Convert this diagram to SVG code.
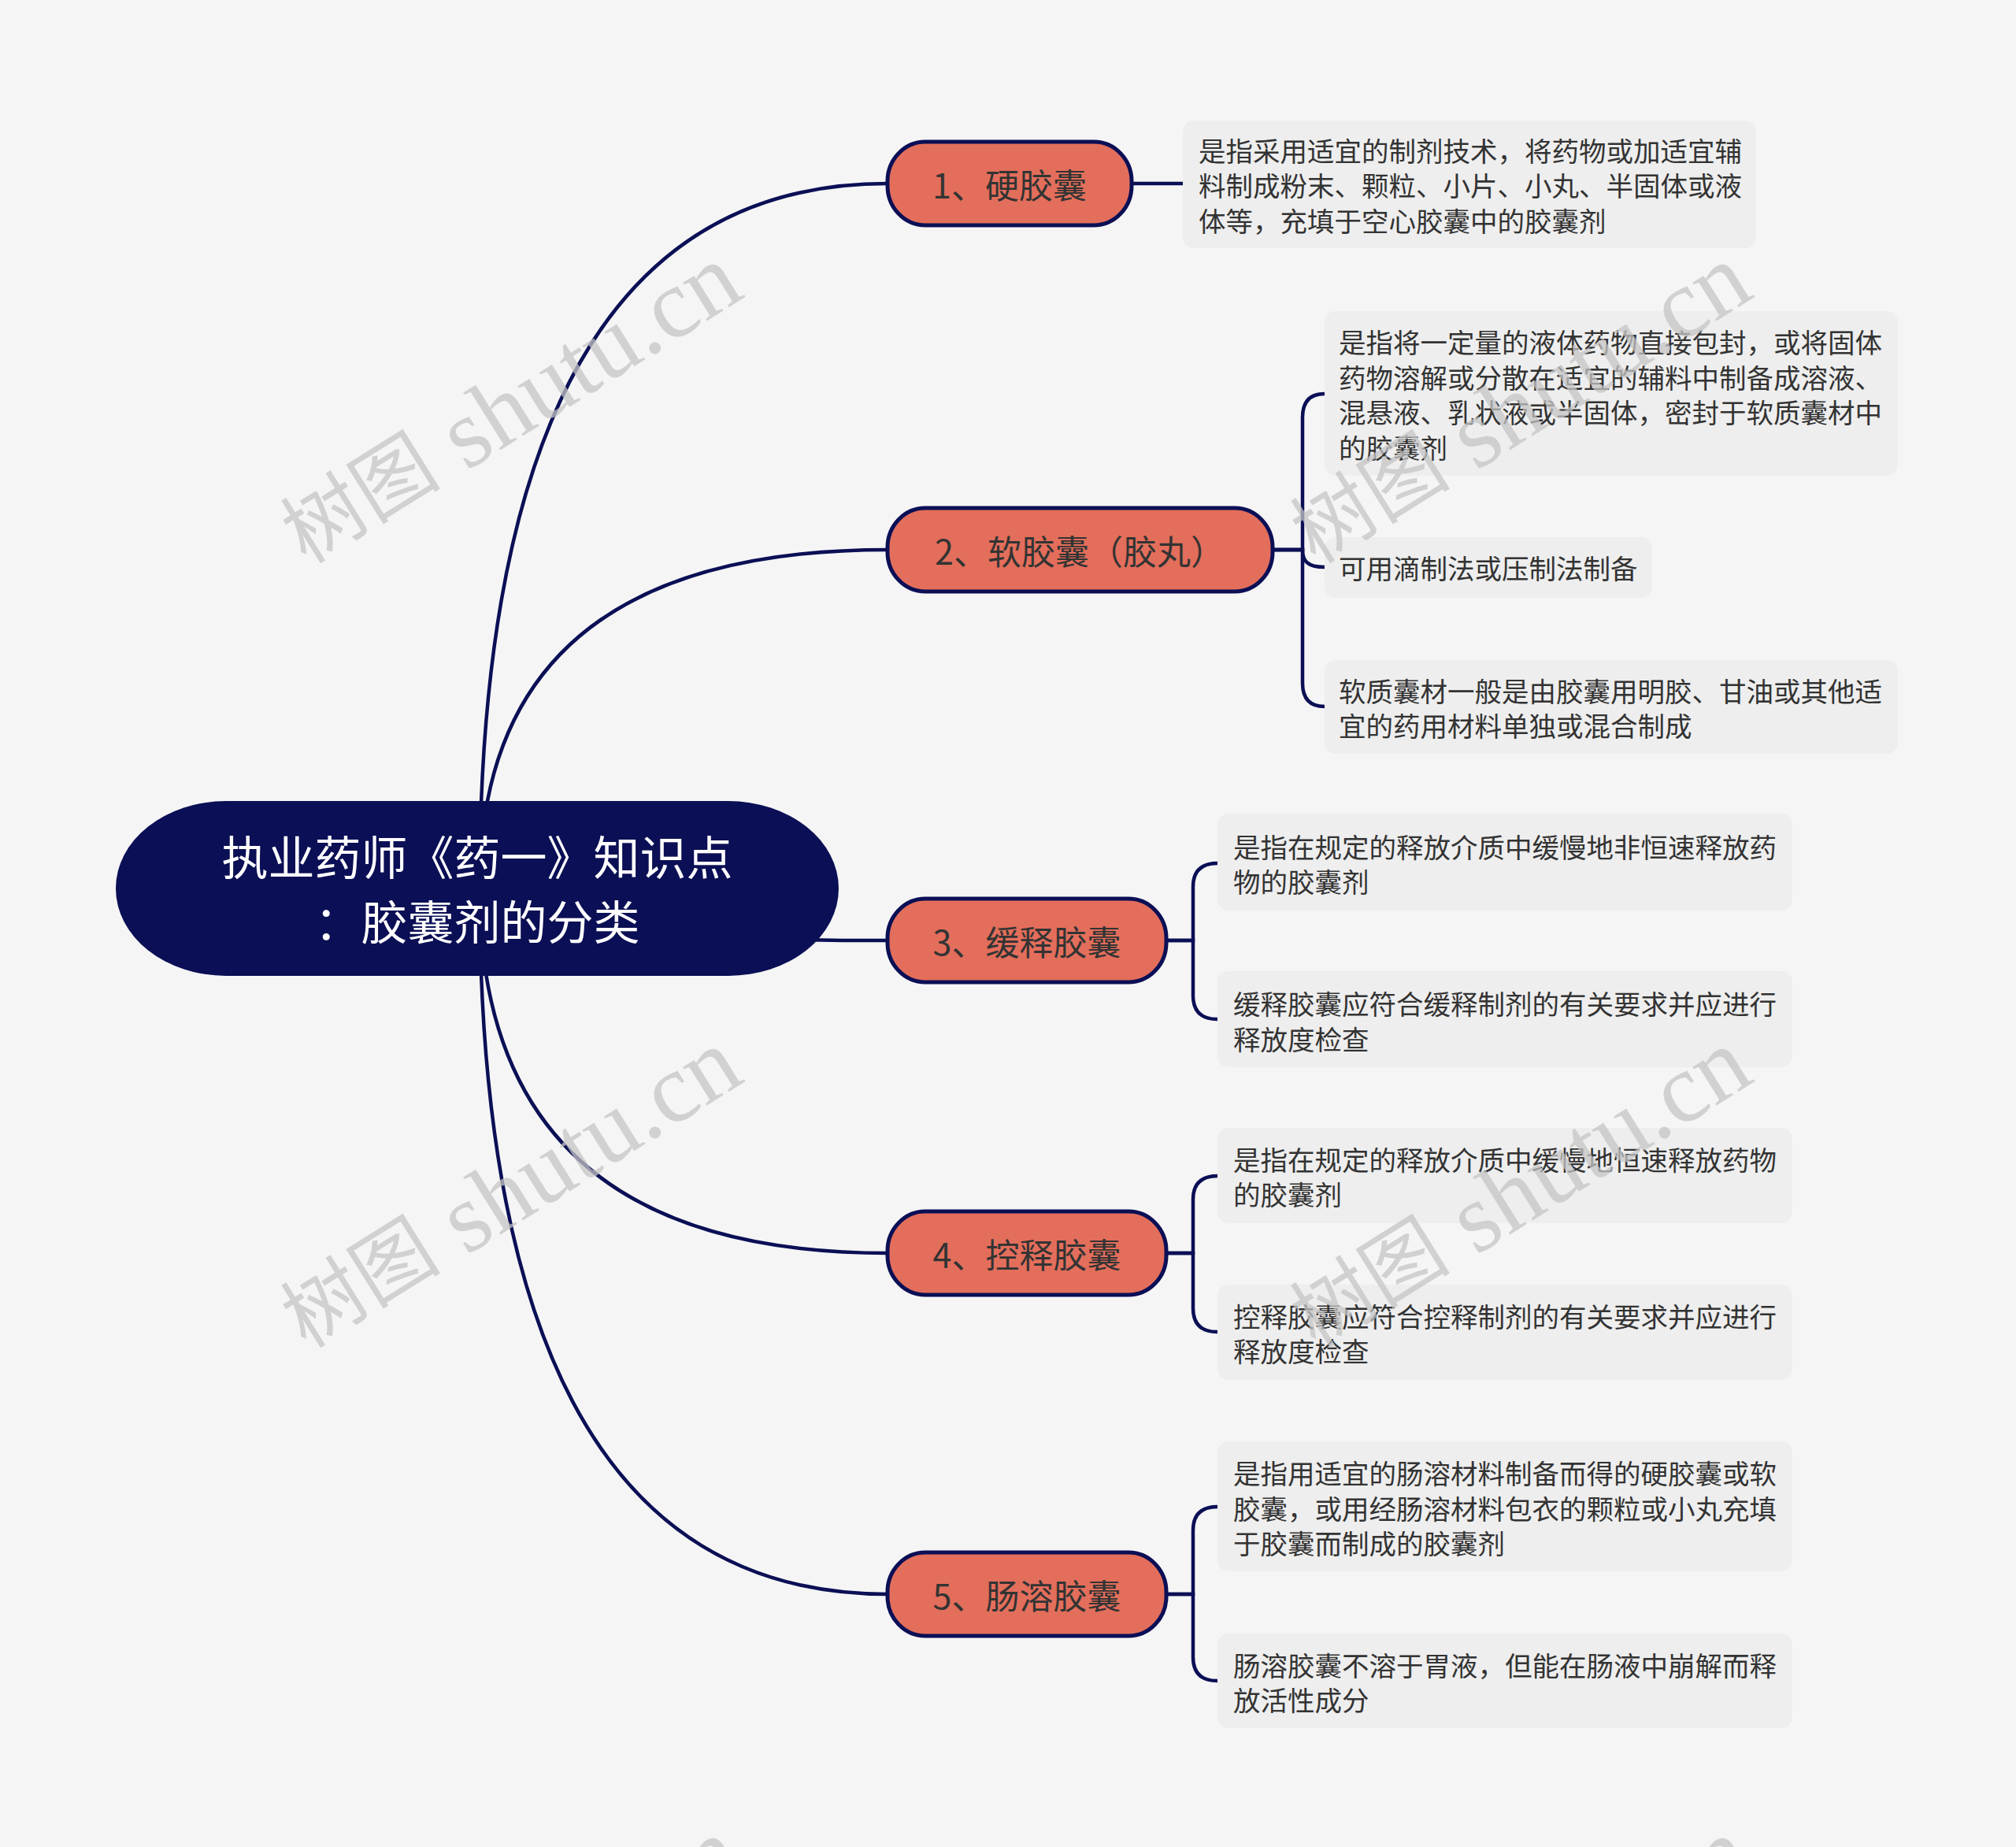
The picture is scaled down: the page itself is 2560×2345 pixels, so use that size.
<svg xmlns="http://www.w3.org/2000/svg" width="2560" height="2345" viewBox="0 0 2560 2345">
<style>
.bg{fill:#f5f5f5}
.conn{fill:none;stroke:#0b0f55;stroke-width:4.5;stroke-linecap:round}
.root{fill:#0b0f55}
.rootText{font-family:"Noto Sans CJK SC","Noto Sans",sans-serif;font-size:59px;fill:#ffffff;text-anchor:middle;dominant-baseline:central}
.node{fill:#e36e5b;stroke:#0b0f55;stroke-width:5}
.nodeText{font-family:"Noto Sans CJK SC","Noto Sans",sans-serif;font-size:43px;fill:#333333;text-anchor:middle;dominant-baseline:central}
.leaf{fill:#eeeeee}
.leafText{font-family:"Noto Sans CJK SC","Noto Sans",sans-serif;font-size:34.5px;fill:#333333;dominant-baseline:central}
.wm{font-family:"Liberation Serif","Noto Sans CJK SC",serif;font-size:125px;fill:#c4c4c4;fill-opacity:0.75;text-anchor:middle;dominant-baseline:central}
.wmc{font-size:102px}
</style>
<rect class="bg" x="0" y="0" width="2560" height="2345"/>
<g id="connectors">
<path class="conn" d="M609 1128 Q609 233 1127 233"/>
<path class="conn" d="M609 1128 Q609 698 1127 698"/>
<path class="conn" d="M609 1128 Q609 1194 1127 1194"/>
<path class="conn" d="M609 1128 Q609 1591 1127 1591"/>
<path class="conn" d="M609 1128 Q609 2024 1127 2024"/>
<path class="conn" d="M1437 233 H1502"/>
<path class="conn" d="M1616 698 H1654 V530 Q1654 500 1682 500"/>
<path class="conn" d="M1616 698 H1654 C1654 712 1660 720 1682 720"/>
<path class="conn" d="M1616 698 H1654 V867 Q1654 897 1682 897"/>
<path class="conn" d="M1481 1194 H1515 V1126 Q1515 1096 1546 1096"/>
<path class="conn" d="M1481 1194 H1515 V1264 Q1515 1294 1546 1294"/>
<path class="conn" d="M1481 1591 H1515 V1523 Q1515 1493 1546 1493"/>
<path class="conn" d="M1481 1591 H1515 V1661 Q1515 1691 1546 1691"/>
<path class="conn" d="M1481 2024 H1515 V1943 Q1515 1913 1546 1913"/>
<path class="conn" d="M1481 2024 H1515 V2104 Q1515 2134 1546 2134"/>
</g>
<g id="root">
<rect class="root" x="147" y="1017" width="918" height="222" rx="140" ry="111"/>
<text class="rootText" x="606" y="1085">执业药师《药一》知识点</text>
<text class="rootText" x="606" y="1167">：胶囊剂的分类</text>
</g>
<g id="node1">
<rect class="node" x="1127" y="180" width="310" height="106" rx="48" ry="50"/>
<text class="nodeText" x="1282" y="233">1、硬胶囊</text>
</g>
<g id="node2">
<rect class="node" x="1127" y="645" width="489" height="106" rx="48" ry="50"/>
<text class="nodeText" x="1371" y="698">2、软胶囊（胶丸）</text>
</g>
<g id="node3">
<rect class="node" x="1127" y="1141" width="354" height="106" rx="48" ry="50"/>
<text class="nodeText" x="1304" y="1194">3、缓释胶囊</text>
</g>
<g id="node4">
<rect class="node" x="1127" y="1538" width="354" height="106" rx="48" ry="50"/>
<text class="nodeText" x="1304" y="1591">4、控释胶囊</text>
</g>
<g id="node5">
<rect class="node" x="1127" y="1971" width="354" height="106" rx="48" ry="50"/>
<text class="nodeText" x="1304" y="2024">5、肠溶胶囊</text>
</g>
<g id="leaf1">
<rect class="leaf" x="1502" y="153" width="728" height="162" rx="14"/>
<text class="leafText" x="1522" y="190">是指采用适宜的制剂技术，将药物或加适宜辅</text>
<text class="leafText" x="1522" y="234">料制成粉末、颗粒、小片、小丸、半固体或液</text>
<text class="leafText" x="1522" y="279">体等，充填于空心胶囊中的胶囊剂</text>
</g>
<g id="leaf2a">
<rect class="leaf" x="1682" y="395" width="728" height="209" rx="14"/>
<text class="leafText" x="1700" y="433">是指将一定量的液体药物直接包封，或将固体</text>
<text class="leafText" x="1700" y="478">药物溶解或分散在适宜的辅料中制备成溶液、</text>
<text class="leafText" x="1700" y="522">混悬液、乳状液或半固体，密封于软质囊材中</text>
<text class="leafText" x="1700" y="567">的胶囊剂</text>
</g>
<g id="leaf2b">
<rect class="leaf" x="1682" y="682" width="416" height="77" rx="14"/>
<text class="leafText" x="1700" y="720">可用滴制法或压制法制备</text>
</g>
<g id="leaf2c">
<rect class="leaf" x="1682" y="838" width="728" height="119" rx="14"/>
<text class="leafText" x="1700" y="876">软质囊材一般是由胶囊用明胶、甘油或其他适</text>
<text class="leafText" x="1700" y="920">宜的药用材料单独或混合制成</text>
</g>
<g id="leaf3a">
<rect class="leaf" x="1546" y="1033" width="730" height="123" rx="14"/>
<text class="leafText" x="1566" y="1074">是指在规定的释放介质中缓慢地非恒速释放药</text>
<text class="leafText" x="1566" y="1118">物的胶囊剂</text>
</g>
<g id="leaf3b">
<rect class="leaf" x="1546" y="1233" width="730" height="122" rx="14"/>
<text class="leafText" x="1566" y="1273">缓释胶囊应符合缓释制剂的有关要求并应进行</text>
<text class="leafText" x="1566" y="1318">释放度检查</text>
</g>
<g id="leaf4a">
<rect class="leaf" x="1546" y="1432" width="730" height="121" rx="14"/>
<text class="leafText" x="1566" y="1471">是指在规定的释放介质中缓慢地恒速释放药物</text>
<text class="leafText" x="1566" y="1515">的胶囊剂</text>
</g>
<g id="leaf4b">
<rect class="leaf" x="1546" y="1631" width="730" height="121" rx="14"/>
<text class="leafText" x="1566" y="1670">控释胶囊应符合控释制剂的有关要求并应进行</text>
<text class="leafText" x="1566" y="1714">释放度检查</text>
</g>
<g id="leaf5a">
<rect class="leaf" x="1546" y="1830" width="730" height="165" rx="14"/>
<text class="leafText" x="1566" y="1869">是指用适宜的肠溶材料制备而得的硬胶囊或软</text>
<text class="leafText" x="1566" y="1914">胶囊，或用经肠溶材料包衣的颗粒或小丸充填</text>
<text class="leafText" x="1566" y="1958">于胶囊而制成的胶囊剂</text>
</g>
<g id="leaf5b">
<rect class="leaf" x="1546" y="2074" width="730" height="120" rx="14"/>
<text class="leafText" x="1566" y="2113">肠溶胶囊不溶于胃液，但能在肠液中崩解而释</text>
<text class="leafText" x="1566" y="2157">放活性成分</text>
</g>
<g id="watermarks">
<text class="wm" transform="translate(648 514) rotate(-32)"><tspan class="wmc">树图</tspan> shutu.cn</text>
<text class="wm" transform="translate(1930 514) rotate(-32)"><tspan class="wmc">树图</tspan> shutu.cn</text>
<text class="wm" transform="translate(648 1510) rotate(-32)"><tspan class="wmc">树图</tspan> shutu.cn</text>
<text class="wm" transform="translate(1930 1510) rotate(-32)"><tspan class="wmc">树图</tspan> shutu.cn</text>
<text class="wm" transform="translate(648 2512) rotate(-32)"><tspan class="wmc">树图</tspan> shutu.cn</text>
<text class="wm" transform="translate(1930 2512) rotate(-32)"><tspan class="wmc">树图</tspan> shutu.cn</text>
</g>
</svg>
